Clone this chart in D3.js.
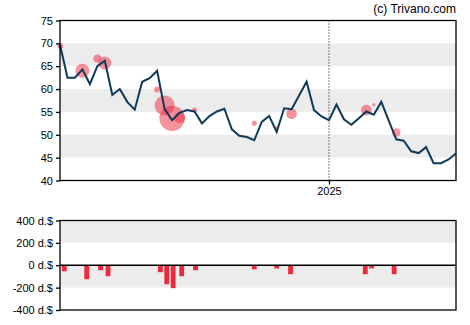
<!DOCTYPE html>
<html><head><meta charset="utf-8">
<script src="https://cdn.jsdelivr.net/npm/d3@7"></script>
<style>
html,body{margin:0;padding:0;background:#fff;}
svg{display:block;font-family:"Liberation Sans",Arial,sans-serif;}
</style></head>
<body><svg id="c" width="470" height="325"></svg>
<script>
// ---- data ----
const startDate = "2024-04-24";
const prices = [69.75,62.5,62.5,64.3,61.1,65,66.2,58.7,60,57.2,55.5,61.6,62.4,64,55.6,53.2,54.8,55.4,55.1,52.5,54.1,55.1,55.7,51.2,49.8,49.5,48.8,52.8,54.1,50.6,55.8,55.6,58.6,61.6,55.4,54,53.2,56.6,53.4,52.2,53.6,55.1,54.4,57.2,53.1,49,48.7,46.4,46,47.3,43.8,43.8,44.6,45.9];
const tradeDates = ["2024-04-24","2024-05-15","2024-05-29","2024-06-05","2024-07-24","2024-07-31","2024-08-07","2024-08-14","2024-08-28","2024-10-23","2024-11-13","2024-11-27","2025-02-05","2025-02-12","2025-03-05"];
const tradePrices = [69.5,64,66.7,65.7,59.9,56.4,53.6,53.8,55.4,52.5,51.6,54.6,55.4,56.6,50.5];
const tradeVolumes = [11,60,20,52,11,123,200,40,8,8,3,35,35,3,23];
const barDates = ["2024-04-28","2024-05-19","2024-06-01","2024-06-08","2024-07-27","2024-08-02","2024-08-08","2024-08-16","2024-08-29","2024-10-23","2024-11-13","2024-11-26","2025-02-04","2025-02-10","2025-03-03"];
const barValues = [-54,-125,-45,-98,-62,-170,-205,-98,-45,-36,-28,-80,-80,-28,-80];
const priceTicks = [40,45,50,55,60,65,70,75];
const volTicks = [-400,-200,0,200,400];
const yearMarks = ["2025-01-01"];
const yearLabels = ["2025"];
const credit = "(c) Trivano.com";

// ---- layout ----
const svg = d3.select("#c");
const L = 60, R = 456;
const mT = 20.5, mB = 180.5;
const vT = 220.5, vB = 310;
const parse = d3.utcParse("%Y-%m-%d");
const t0 = parse(startDate);
const dates = prices.map((_, i) => d3.utcDay.offset(t0, 7 * i));
const x = d3.scaleUtc().domain([dates[0], dates[dates.length - 1]]).range([L, R]);
const y = d3.scaleLinear().domain([40, 75]).range([mB, mT]);
const yv = d3.scaleLinear().domain([-400, 400]).range([vB, vT]);
const rScale = d3.scaleSqrt().domain([0, 200]).range([0, 12.7]);

// bands
const band = "#ececec";
[[65,70],[55,60],[45,50]].forEach(([a,b]) => {
  svg.append("rect").attr("x", L).attr("width", R - L)
    .attr("y", y(b)).attr("height", y(a) - y(b)).attr("fill", band);
});
[[200,400],[-200,0]].forEach(([a,b]) => {
  svg.append("rect").attr("x", L).attr("width", R - L)
    .attr("y", yv(b)).attr("height", yv(a) - yv(b)).attr("fill", band);
});

// year line
yearMarks.forEach(d => {
  svg.append("line").attr("x1", x(parse(d))).attr("x2", x(parse(d)))
    .attr("y1", mT).attr("y2", mB).attr("stroke", "#000").attr("stroke-width", 1)
    .attr("stroke-dasharray", "1,2");
});

// bubbles
svg.append("g").selectAll("circle").data(tradeDates).join("circle")
  .attr("cx", (d) => x(parse(d)))
  .attr("cy", (d, i) => y(tradePrices[i]))
  .attr("r", (d, i) => rScale(tradeVolumes[i]))
  .attr("fill", "#f0283c").attr("fill-opacity", 0.5);

// price line
svg.append("path").datum(prices)
  .attr("d", d3.line().x((d, i) => x(dates[i])).y(d => y(d)))
  .attr("fill", "none").attr("stroke", "#0d3a5a").attr("stroke-width", 2)
  .attr("stroke-linejoin", "miter");

// bars
svg.append("g").selectAll("rect").data(barValues).join("rect")
  .attr("x", (d, i) => x(parse(barDates[i])) - 2.4)
  .attr("width", 4.8)
  .attr("y", d => Math.min(yv(0), yv(d)))
  .attr("height", d => Math.abs(yv(d) - yv(0)))
  .attr("fill", "#f0283c");

// frames
svg.append("rect").attr("x", L).attr("y", mT).attr("width", R - L).attr("height", mB - mT)
  .attr("fill", "none").attr("stroke", "#000").attr("stroke-width", 1.3);
svg.append("rect").attr("x", L).attr("y", vT).attr("width", R - L).attr("height", vB - vT)
  .attr("fill", "none").attr("stroke", "#000").attr("stroke-width", 1.3);
svg.append("line").attr("x1", L).attr("x2", R).attr("y1", yv(0)).attr("y2", yv(0))
  .attr("stroke", "#000").attr("stroke-width", 1.3);

// axes
const ax1 = svg.append("g").attr("transform", `translate(${L},0)`)
  .call(d3.axisLeft(y).tickValues(priceTicks).tickSize(4).tickPadding(3));
const ax2 = svg.append("g").attr("transform", `translate(${L},0)`)
  .call(d3.axisLeft(yv).tickValues(volTicks).tickSize(4).tickPadding(3).tickFormat(d => d + " d.$"));
const ax3 = svg.append("g").attr("transform", `translate(0,${mB})`)
  .call(d3.axisBottom(x).tickValues(yearMarks.map(parse)).tickSize(4).tickPadding(3)
    .tickFormat((d, i) => yearLabels[i]));
[ax1, ax2, ax3].forEach(a => {
  a.select(".domain").remove();
  a.selectAll("text").attr("font-size", 11).attr("fill", "#000")
    .attr("font-family", "'Liberation Sans',Arial,sans-serif");
  a.selectAll("line").attr("stroke", "#000").attr("stroke-width", 1.3);
});

svg.append("text").attr("x", R).attr("y", 13).attr("text-anchor", "end")
  .attr("font-size", 12).attr("fill", "#000").text(credit);
</script></body></html>
